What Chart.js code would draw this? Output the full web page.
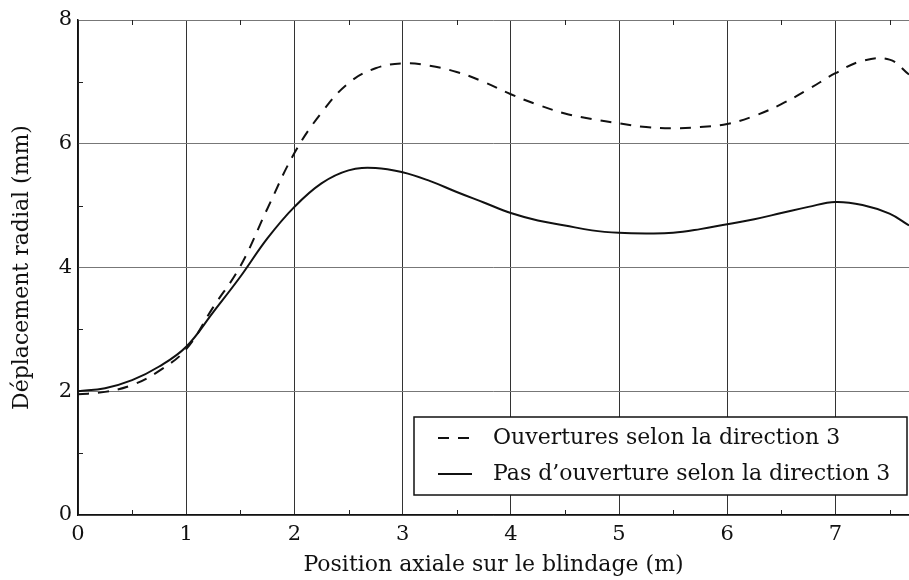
<!DOCTYPE html>
<html>
<head>
<meta charset="utf-8">
<script src="https://cdn.jsdelivr.net/npm/chart.js@4.4.0/dist/chart.umd.min.js"></script>
<style>
    html, body { margin: 0; padding: 0; background: #fff; }
    #wrap { width: 909px; height: 580px; }
</style>
</head>
<body>
<div id="wrap"><canvas id="chart"></canvas></div>
<script>
// Données
const positions = [0, 0.25, 0.5, 0.75, 1, 1.25, 1.5, 1.75, 2, 2.25, 2.5, 2.75, 3, 3.25, 3.5, 3.75,
    4, 4.25, 4.5, 4.75, 5, 5.25, 5.5, 5.75, 6, 6.25, 6.5, 6.75, 7, 7.25, 7.5, 7.68];
const avecOuvertures = [1.95, 1.99, 2.1, 2.33, 2.68, 3.36, 4.02, 4.95, 5.85, 6.5, 6.98, 7.22, 7.30, 7.26,
    7.16, 7.0, 6.80, 6.63, 6.49, 6.4, 6.33, 6.27, 6.25, 6.27, 6.32, 6.45, 6.64, 6.88, 7.14, 7.34, 7.36, 7.12];
const sansOuverture = [2.0, 2.05, 2.18, 2.4, 2.72, 3.28, 3.85, 4.47, 4.98, 5.36, 5.57, 5.61, 5.54, 5.40,
    5.22, 5.05, 4.88, 4.76, 4.68, 4.6, 4.56, 4.55, 4.56, 4.62, 4.70, 4.78, 4.88, 4.98, 5.06, 5.01, 4.87, 4.68];
const xTicks = [0, 1, 2, 3, 4, 5, 6, 7];
const yTicks = [0, 2, 4, 6, 8];
const xMinor = [0.5, 1.5, 2.5, 3.5, 4.5, 5.5, 6.5, 7.5];
const yMinor = [1, 3, 5, 7];

const FONT = 'DejaVu Serif';

function toPoints(ys) {
    return positions.map((x, i) => ({ x: x, y: ys[i] }));
}

// Petites graduations + cadre de légende
const extras = {
    id: 'extras',
    afterDraw(chart) {
        const ctx = chart.ctx;
        const area = chart.chartArea;
        const xs = chart.scales.x;
        const ys = chart.scales.y;
        ctx.save();
        ctx.strokeStyle = '#222';
        ctx.lineWidth = 1;
        ctx.beginPath();
        xMinor.forEach(v => {
            const px = Math.round(xs.getPixelForValue(v)) + 0.5;
            ctx.moveTo(px, area.bottom);
            ctx.lineTo(px, area.bottom - 5);
            ctx.moveTo(px, area.top);
            ctx.lineTo(px, area.top + 5);
        });
        yMinor.forEach(v => {
            const py = Math.round(ys.getPixelForValue(v)) + 0.5;
            ctx.moveTo(area.left, py);
            ctx.lineTo(area.left + 5, py);
        });
        ctx.stroke();

        // Légende
        const bx = area.left + 336, by = area.top + 397, bw = 493, bh = 78;
        ctx.fillStyle = '#fff';
        ctx.fillRect(bx, by, bw, bh);
        ctx.strokeStyle = '#111';
        ctx.lineWidth = 1.5;
        ctx.strokeRect(bx, by, bw, bh);
        ctx.font = '22px "' + FONT + '"';
        ctx.textBaseline = 'middle';
        chart.data.datasets.forEach((ds, i) => {
            const cy = by + 21 + i * 36;
            ctx.strokeStyle = ds.borderColor;
            ctx.lineWidth = ds.borderWidth;
            ctx.setLineDash(ds.borderDash || []);
            ctx.beginPath();
            ctx.moveTo(bx + 24, cy);
            ctx.lineTo(bx + 58, cy);
            ctx.stroke();
            ctx.setLineDash([]);
            ctx.fillStyle = '#111';
            ctx.fillText(ds.label, bx + 79, cy);
        });
        ctx.restore();
    }
};

new Chart(document.getElementById('chart'), {
    type: 'line',
    data: {
        datasets: [{
            label: 'Ouvertures selon la direction 3',
            data: toPoints(avecOuvertures),
            borderColor: '#111',
            borderWidth: 2,
            borderDash: [11, 9],
            pointRadius: 0,
            tension: 0.4,
            fill: false
        }, {
            label: 'Pas d\u2019ouverture selon la direction 3',
            data: toPoints(sansOuverture),
            borderColor: '#111',
            borderWidth: 2,
            pointRadius: 0,
            tension: 0.4,
            fill: false
        }]
    },
    options: {
        responsive: true,
        maintainAspectRatio: false,
        animation: false,
        layout: { padding: { top: 20, right: 0, left: 0, bottom: 0 } },
        plugins: {
            legend: { display: false },
            tooltip: { enabled: false }
        },
        scales: {
            x: {
                type: 'linear',
                min: 0,
                max: 7.68,
                afterBuildTicks: s => { s.ticks = xTicks.map(v => ({ value: v })); },
                afterFit: s => { s.height = 65; },
                ticks: { color: '#111', font: { family: FONT, size: 21 }, padding: 7, maxRotation: 0 },
                grid: { color: '#333', lineWidth: 1, drawTicks: false },
                border: { display: true, color: '#111', width: 1.5 },
                title: {
                    display: true,
                    text: 'Position axiale sur le blindage (m)',
                    color: '#111',
                    font: { family: FONT, size: 22 },
                    padding: { top: 4, bottom: 2 }
                }
            },
            y: {
                min: 0,
                max: 8,
                afterBuildTicks: s => { s.ticks = yTicks.map(v => ({ value: v })); },
                afterFit: s => { s.width = 78; },
                ticks: { color: '#111', font: { family: FONT, size: 21 }, padding: 6 },
                grid: { color: '#777', lineWidth: 1, drawTicks: false },
                border: { display: true, color: '#111', width: 1.5 },
                title: {
                    display: true,
                    text: 'Déplacement radial (mm)',
                    color: '#111',
                    font: { family: FONT, size: 22 },
                    padding: { top: 9, bottom: 4 }
                }
            }
        }
    },
    plugins: [extras]
});
</script>
</body>
</html>
